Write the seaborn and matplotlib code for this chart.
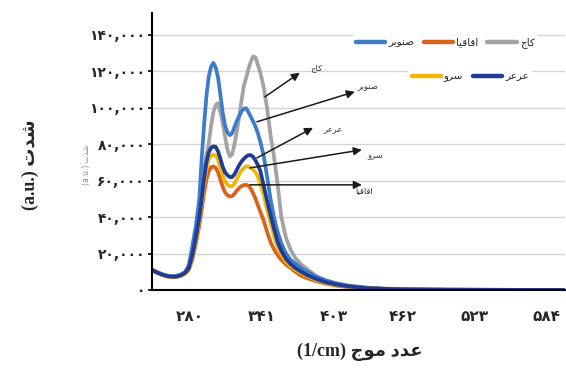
import matplotlib
matplotlib.use("Agg")
import matplotlib.pyplot as plt
from matplotlib.lines import Line2D
import seaborn as sns
import pandas as pd

# ---- data ----
wavenumber = [248, 252, 256, 260, 264, 268, 272, 276, 279, 282,
              285, 288, 290, 292, 294, 296, 298, 300, 302, 304,
              306, 308, 310, 312, 314, 316, 318, 320, 322, 324,
              326, 328, 330, 332, 334, 336, 338, 340, 343, 346,
              349, 352, 355, 358, 362, 366, 370, 375, 380, 388,
              396, 405, 415, 430, 445, 460, 480, 500, 530, 560, 600]
kaj = [11000, 9800, 8700, 7900, 7600, 7700, 8300, 9600, 12000, 17000,
       27000, 42000, 55000, 66000, 74000, 80000, 90000, 97500, 101500, 102600,
       97500, 91500, 84000, 77000, 73300, 74500, 80000, 87000, 95000, 104000,
       112000, 116500, 121500, 125500, 128200, 127500, 123500, 119500, 111000, 99000,
       84000, 72000, 57000, 40000, 28500, 22000, 17500, 14000, 11500, 7500,
       5300, 3700, 2500, 1400, 800, 500, 300, 180, 100, 60, 40]
sanobar = [11000, 9800, 8700, 7900, 7600, 7700, 8400, 10000, 13500, 24000,
           35000, 50000, 72000, 90000, 106000, 117000, 122500, 124600, 122000, 116500,
           107000, 97000, 90000, 86500, 85000, 86000, 89500, 92800, 95500, 98000,
           99500, 99700, 97500, 95000, 92500, 89500, 86000, 81500, 73500, 61500,
           49000, 39000, 31500, 25500, 20000, 16500, 14500, 12000, 10000, 7300,
           5200, 3600, 2300, 1200, 700, 400, 250, 150, 100, 60, 40]
aghaghia = [10500, 9300, 8300, 7500, 7200, 7200, 7700, 9000, 11000, 17000,
            25500, 35500, 44000, 53000, 60500, 65000, 67300, 67800, 67000, 64500,
            60500, 56500, 53500, 52000, 51300, 51500, 52800, 54500, 56000, 57000,
            57600, 57700, 57200, 55500, 53000, 50000, 46500, 43000, 38000, 31500,
            26000, 22000, 19000, 16500, 14000, 12000, 10000, 7800, 6500, 4800,
            3500, 2400, 1600, 900, 500, 300, 200, 120, 80, 50, 30]
sarv = [10500, 9300, 8300, 7500, 7200, 7200, 7800, 9200, 11500, 18000,
        27500, 38000, 47500, 58000, 66500, 71500, 73800, 74200, 73800, 71500,
        67000, 62500, 59500, 57800, 56800, 57000, 58500, 61000, 63500, 65500,
        67000, 67800, 67800, 67000, 66000, 64500, 62000, 58500, 52000, 43500,
        36500, 29000, 23500, 19500, 15500, 13000, 11000, 9300, 7600, 5500,
        4000, 2800, 1800, 1000, 600, 350, 220, 130, 90, 50, 30]
arar = [10800, 9600, 8500, 7700, 7300, 7300, 8000, 9500, 12000, 19000,
        29000, 40000, 50000, 61000, 70000, 75500, 78000, 78800, 78500, 76000,
        72000, 67500, 64500, 63000, 62000, 62000, 63500, 66000, 68500, 70500,
        72000, 73200, 74000, 74000, 73000, 71000, 68500, 65500, 57000, 48500,
        40500, 33000, 26000, 21500, 17000, 14200, 12000, 10000, 8200, 6000,
        4300, 3000, 2000, 1100, 650, 400, 250, 150, 100, 60, 40]

# Persian names (visual order, presentation forms)
name_kaj = "\uFE9D\uFE8E\uFEDB"                         # کاج
name_sanobar = "\uFEAE\uFE91\uFEEE\uFEE8\uFEBB"         # صنوبر
name_aghaghia = "\uFE8E\uFEF4\uFED7\uFE8E\uFED7\uFE8D"  # اقاقیا
name_sarv = "\uFEED\uFEAE\uFEB3"                        # سرو
name_arar = "\uFEAE\uFECB\uFEAE\uFECB"                  # عرعر

x_ticks = [280, 341, 403, 462, 523, 584]
x_ticklabels = ["۲۸۰", "۳۴۱", "۴۰۳", "۴۶۲", "۵۲۳", "۵۸۴"]
y_ticks = [0, 20000, 40000, 60000, 80000, 100000, 120000, 140000]
y_ticklabels = ["۰", "۲۰,۰۰۰", "۴۰,۰۰۰", "۶۰,۰۰۰", "۸۰,۰۰۰", "۱۰۰,۰۰۰", "۱۲۰,۰۰۰", "۱۴۰,۰۰۰"]

xlabel = "(1/cm) \uFE9D\uFEEE\uFEE3 \uFEA9\uFEAA\uFECB"   # عدد موج (1/cm)
ylabel = "(a.u.) \uFE95\uFEAA\uFEB7"                      # شدت (a.u.)

series = [(name_kaj, kaj, "#a3a3a3"),
          (name_sanobar, sanobar, "#3d7cc9"),
          (name_aghaghia, aghaghia, "#d9621c"),
          (name_sarv, sarv, "#f2b705"),
          (name_arar, arar, "#1f3b95")]

rows = []
for name, vals, _ in series:
    for xv, yv in zip(wavenumber, vals):
        rows.append({"x": xv, "y": yv, "name": name})
df = pd.DataFrame(rows)
palette = {n: c for n, _, c in series}

sns.set_theme(style="white")
plt.rcParams['font.family'] = ['DejaVu Sans']

fig = plt.figure(figsize=(5.66, 3.70), dpi=100)
ax = fig.add_axes([152/566, 1-290/370, 1-152/566-0.002, (290-13)/370])

sns.lineplot(data=df, x="x", y="y", hue="name", palette=palette, linewidth=2.7,
             ax=ax, legend=False, hue_order=[s[0] for s in series])

ax.set_xlim(247.6, 600)
ax.set_ylim(0, 152000)
ax.set_xticks(x_ticks)
ax.set_xticklabels(x_ticklabels, fontsize=11, fontweight='bold', family=['DejaVu Sans'])
ax.set_yticks(y_ticks)
ax.set_yticklabels(y_ticklabels, fontsize=10, fontweight='bold', family=['DejaVu Sans'])
ax.tick_params(axis='x', length=0, pad=14)
ax.tick_params(axis='y', length=3, width=1.2, color='black', pad=2, direction='out', left=True)
ax.yaxis.grid(True, color='#d4d4d4', linewidth=1)
ax.xaxis.grid(False)
ax.set_axisbelow(True)
for s in ['top', 'right']:
    ax.spines[s].set_visible(False)
for s in ['left', 'bottom']:
    ax.spines[s].set_color('black')
    ax.spines[s].set_linewidth(1.5)
ax.set_xlabel("")
ax.set_ylabel("")

fig.text(360/566, 1-352/370, xlabel, ha='center', va='center', fontsize=13, fontweight='bold',
         family=['Liberation Serif', 'DejaVu Sans'])
fig.text(30/566, 1-165/370, ylabel, ha='center', va='center', rotation=90, fontsize=13,
         fontweight='bold', family=['Liberation Serif', 'DejaVu Sans'])
fig.text(87/566, 1-165/370, ylabel, ha='center', va='center', rotation=90, fontsize=5.5,
         color='#8a8a8a', family=['DejaVu Sans'])

# annotations (arrows)
ann = [(name_kaj, (344, 106000), (373.8, 119200), (387.5, 122000)),
       (name_sanobar, (337.2, 92300), (420.7, 108800), (431.8, 111500)),
       (name_arar, (337.2, 72500), (385, 89000), (402, 87900)),
       (name_sarv, (331.2, 67000), (426.7, 76900), (437.8, 74200)),
       (name_aghaghia, (331.2, 57700), (426.7, 57700), (428.4, 54400))]
for name, tail, head, tpos in ann:
    ax.annotate("", xy=head, xytext=tail,
                arrowprops=dict(arrowstyle="-|>", color='#1a1a1a', lw=1.1,
                                mutation_scale=12, shrinkA=0, shrinkB=0))
    ax.text(tpos[0], tpos[1], name, fontsize=6, color='#333333', ha='center', va='center')

# legends
def handles_for(names):
    return [Line2D([0], [0], color=palette[n], lw=3.2, solid_capstyle='round') for n in names]

row1 = [name_sanobar, name_aghaghia, name_kaj]
row2 = [name_sarv, name_arar]
leg1 = fig.legend(handles_for(row1), row1, ncol=3, loc='center right',
                  bbox_to_anchor=(543/566, 1-43/370), frameon=True, fontsize=7.5,
                  handlelength=2.8, columnspacing=0.9, handletextpad=0.3,
                  borderpad=0.3, facecolor='white', edgecolor='none', framealpha=1)
leg2 = fig.legend(handles_for(row2), row2, ncol=2, loc='center right',
                  bbox_to_anchor=(537/566, 1-77/370), frameon=True, fontsize=7.5,
                  handlelength=2.8, columnspacing=0.9, handletextpad=0.3,
                  borderpad=0.3, facecolor='white', edgecolor='none', framealpha=1)

fig.savefig("out.png", dpi=100)
